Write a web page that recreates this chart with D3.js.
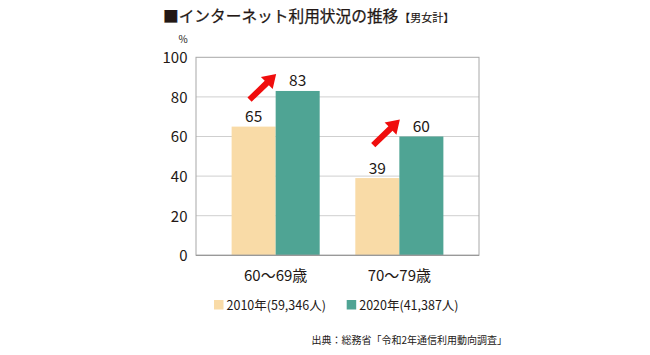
<!DOCTYPE html>
<html><head><meta charset="utf-8">
<script src="https://cdn.jsdelivr.net/npm/d3@7"></script>
<style>body{margin:0;background:#fff}svg{display:block}text{font-family:"Noto Sans CJK JP","Noto Sans",sans-serif;fill:#231815}</style>
</head><body><svg id="c" width="650" height="355"></svg>
<script>
const categories = ["60〜69歳", "70〜79歳"];
const seriesNames = ["2010年(59,346人)", "2020年(41,387人)"];
const values2010 = [65, 39];
const values2020 = [83, 60];
const yTicks = [0, 20, 40, 60, 80, 100];
const title = "■インターネット利用状況の推移";
const subtitle = "【男女計】";
const source = "出典：総務省「令和2年通信利用動向調査」";
const colors = ["#f9dba7", "#4fa494"];

const svg = d3.select("#c");
const m = {l:196, r:479, t:57.3, b:255.3};
const x = d3.scaleBand().domain(categories).range([m.l, m.r]).padding(0.288);
const xs = d3.scaleBand().domain([0,1]).range([0, x.bandwidth()]);
const y = d3.scaleLinear().domain([0,100]).range([m.b, m.t]);

// grid
svg.append("g").selectAll("line").data(yTicks.filter(d=>d>0&&d<100)).join("line")
  .attr("x1", m.l).attr("x2", m.r).attr("y1", d=>y(d)).attr("y2", d=>y(d))
  .attr("stroke", "#cfcfcf").attr("stroke-width", 1);

// bars
const data = categories.map((c,i)=>({c, v:[values2010[i], values2020[i]]}));
const g = svg.append("g").selectAll("g").data(data).join("g").attr("transform", d=>`translate(${x(d.c)},0)`);
g.selectAll("rect").data(d=>d.v.map((v,k)=>({v,k}))).join("rect")
  .attr("x", d=>xs(d.k)).attr("width", xs.bandwidth())
  .attr("y", d=>y(d.v)).attr("height", d=>y(0)-y(d.v)).attr("fill", d=>colors[d.k]);
g.selectAll("text.val").data(d=>d.v.map((v,k)=>({v,k}))).join("text").attr("class","val")
  .attr("x", d=>xs(d.k)+xs.bandwidth()/2).attr("y", d=>y(d.v)-4.5)
  .attr("text-anchor","middle").attr("font-size", 15.5).text(d=>d.v);

// arrows (tip at origin, pointing +x, then rotated up-right)
const arrowPts = [[-37,-3],[-13,-3],[-13,-8.5],[0,0],[-13,8.5],[-13,3],[-37,3]];
g.append("polygon")
  .attr("points", arrowPts.map(p=>p.join(",")).join(" "))
  .attr("fill", "#f00d0d")
  .attr("transform", d=>`translate(${xs(1)+0.5},${y(d.v[1])-17}) rotate(-44)`);

// frame
svg.append("rect").attr("x", m.l).attr("y", m.t).attr("width", m.r-m.l).attr("height", m.b-m.t)
  .attr("fill","none").attr("stroke","#a8a8a8").attr("stroke-width",1);
svg.append("line").attr("x1",m.l).attr("x2",m.r).attr("y1",m.b).attr("y2",m.b).attr("stroke","#999").attr("stroke-width",1.2);

// y axis
const ya = svg.append("g").attr("transform",`translate(${m.l},0)`)
  .call(d3.axisLeft(y).tickValues(yTicks).tickSize(0).tickPadding(8.5));
ya.select(".domain").remove();
ya.selectAll("text").attr("font-size",15).attr("font-family",'"Noto Sans CJK JP",sans-serif').attr("fill","#231815").attr("dy","0.36em");
svg.append("text").attr("x",183).attr("y",43).attr("text-anchor","middle").attr("font-size",10).text("%");

// x axis
const xa = svg.append("g").attr("transform",`translate(0,${m.b})`)
  .call(d3.axisBottom(x).tickSize(0).tickPadding(15));
xa.select(".domain").remove();
xa.selectAll("text").attr("font-size",15).attr("font-family",'"Noto Sans CJK JP",sans-serif').attr("fill","#231815").attr("dy","0.71em");

// legend
const legX = [214, 346.7];
const lg = svg.append("g").selectAll("g").data(seriesNames).join("g").attr("transform",(d,i)=>`translate(${legX[i]},300)`);
lg.append("rect").attr("width",9.5).attr("height",9.5).attr("fill",(d,i)=>colors[i]);
lg.append("text").attr("x",12.5).attr("y",9.8).attr("font-size",12.5).text(d=>d);

// title
svg.append("text").attr("x",163).attr("y",21.5).attr("font-size",15.7).attr("font-weight",400).attr("stroke","#231815").attr("stroke-width",0.25).text(title)
  .append("tspan").attr("font-size",11).attr("stroke-width",0.15).attr("dx",1).text(subtitle);

// source
svg.append("text").attr("x",507).attr("y",344).attr("text-anchor","end").attr("font-size",10).text(source);
</script></body></html>
